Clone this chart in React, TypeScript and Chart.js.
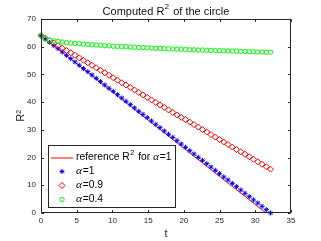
import React, { useEffect, useRef } from 'react';
import { Chart, registerables } from 'chart.js';

Chart.register(...registerables);

// ---- data ----
const TIME = [0, 0.6, 1.19, 1.79, 2.38, 2.98, 3.57, 4.17, 4.76, 5.36, 5.95, 6.55, 7.14, 7.74, 8.33, 8.93, 9.52, 10.12, 10.71, 11.31, 11.9, 12.5, 13.09, 13.69, 14.28, 14.88, 15.47, 16.07, 16.66, 17.26, 17.85, 18.45, 19.04, 19.64, 20.23, 20.83, 21.42, 22.02, 22.61, 23.21, 23.8, 24.4, 24.99, 25.59, 26.18, 26.78, 27.37, 27.97, 28.56, 29.16, 29.75, 30.35, 30.94, 31.54, 32.13];

const R2_ALPHA_1 = [64.0, 62.8, 61.6, 60.4, 59.3, 58.1, 56.9, 55.7, 54.5, 53.3, 52.1, 51.0, 49.8, 48.6, 47.4, 46.2, 45.0, 43.9, 42.7, 41.5, 40.3, 39.1, 37.9, 36.7, 35.6, 34.4, 33.2, 32.0, 30.8, 29.6, 28.4, 27.3, 26.1, 24.9, 23.7, 22.5, 21.3, 20.1, 19.0, 17.8, 16.6, 15.4, 14.2, 13.0, 11.9, 10.7, 9.5, 8.3, 7.1, 5.9, 4.7, 3.6, 2.4, 1.2, 0.0];

const R2_ALPHA_09 = [64.0, 63.1, 62.2, 61.3, 60.4, 59.5, 58.6, 57.8, 56.9, 56.0, 55.1, 54.2, 53.3, 52.4, 51.5, 50.6, 49.7, 48.8, 47.9, 47.0, 46.2, 45.3, 44.4, 43.5, 42.6, 41.7, 40.8, 39.9, 39.0, 38.1, 37.2, 36.3, 35.4, 34.5, 33.7, 32.8, 31.9, 31.0, 30.1, 29.2, 28.3, 27.4, 26.5, 25.6, 24.7, 23.8, 22.9, 22.1, 21.2, 20.3, 19.4, 18.5, 17.6, 16.7, 15.8];

const R2_ALPHA_04 = [64.0, 62.8, 62.4, 62.1, 61.9, 61.7, 61.5, 61.3, 61.2, 61.1, 60.9, 60.8, 60.7, 60.6, 60.5, 60.4, 60.3, 60.2, 60.1, 60.0, 60.0, 59.9, 59.8, 59.7, 59.7, 59.6, 59.5, 59.4, 59.4, 59.3, 59.2, 59.2, 59.1, 59.1, 59.0, 58.9, 58.9, 58.8, 58.8, 58.7, 58.7, 58.6, 58.6, 58.5, 58.5, 58.4, 58.4, 58.3, 58.3, 58.2, 58.2, 58.1, 58.1, 58.0, 58.0];

const REF_TIME = [0, 31.5];
const REF_R2 = [64, 0];

const SERIES_LABELS = ['reference R² for α=1', 'α=1', 'α=0.9', 'α=0.4'];
const SERIES_COLORS = ['#ff0000', '#0000ff', '#ff0000', '#00ff00'];
const SERIES_MARKERS = ['line', 'star', 'rectRot', 'circle'];
const MARKER_SIZES = [0, 2.5, 3, 2.2];
const TITLE = 'Computed R² of the circle';
const X_LABEL = 't';
const Y_LABEL = 'R²';

const AXIS_COLOR = '#262626';
const SANS = '"Liberation Sans", Arial, Helvetica, sans-serif';

function toPoints(xs: number[], ys: number[]) {
  return xs.map((x, i) => ({ x, y: ys[i] }));
}

function richWidth(ctx: CanvasRenderingContext2D, text: string, size: number) {
  return drawRich(ctx, text, 0, 0, size, false);
}

function drawRich(ctx: CanvasRenderingContext2D, text: string, x: number, y: number, size: number, paint = true) {
  let cx = x;
  ctx.textBaseline = 'middle';
  ctx.textAlign = 'left';
  let buf = '';
  const flush = () => {
    if (!buf) return;
    ctx.font = `${size}px ${SANS}`;
    if (paint) ctx.fillText(buf, cx, y);
    cx += ctx.measureText(buf).width;
    buf = '';
  };
  for (const ch of text) {
    if (ch === '²') {
      flush();
      ctx.font = `${size * 0.7}px ${SANS}`;
      if (paint) ctx.fillText('2', cx + 0.5, y - size * 0.4);
      cx += ctx.measureText('2').width + 1.5;
    } else if (ch === 'α') {
      flush();
      ctx.font = `italic ${size * 1.1}px "Liberation Serif", "DejaVu Serif", serif`;
      if (paint) ctx.fillText('α', cx, y);
      cx += ctx.measureText('α').width + 0.8;
    } else {
      buf += ch;
    }
  }
  flush();
  return cx - x;
}

function drawMarker(ctx: CanvasRenderingContext2D, style: string, x: number, y: number, r: number, color: string) {
  ctx.save();
  ctx.strokeStyle = color;
  ctx.lineWidth = 1;
  ctx.beginPath();
  if (style === 'star') {
    ctx.moveTo(x - r, y); ctx.lineTo(x + r, y);
    ctx.moveTo(x, y - r); ctx.lineTo(x, y + r);
    const d = r * Math.SQRT1_2;
    ctx.moveTo(x - d, y - d); ctx.lineTo(x + d, y + d);
    ctx.moveTo(x - d, y + d); ctx.lineTo(x + d, y - d);
  } else if (style === 'rectRot') {
    ctx.moveTo(x - r, y); ctx.lineTo(x, y - r); ctx.lineTo(x + r, y); ctx.lineTo(x, y + r); ctx.closePath();
  } else {
    ctx.arc(x, y, r, 0, Math.PI * 2);
  }
  ctx.stroke();
  ctx.restore();
}

const frameAndLegend = {
  id: 'frameAndLegend',
  afterDatasetsDraw(chart: any) {
    const { ctx, chartArea: a, scales } = chart;
    const xs = scales.x;
    const ys = scales.y;
    ctx.save();
    // box
    ctx.strokeStyle = AXIS_COLOR;
    ctx.lineWidth = 1;
    const L = Math.round(a.left) + 0.5;
    const R = Math.round(a.right) - 0.5;
    const T = Math.round(a.top) + 0.5;
    const B = Math.round(a.bottom) - 0.5;
    ctx.strokeRect(L, T, R - L, B - T);
    const tl = 2.5;
    ctx.beginPath();
    xs.ticks.forEach((t: any) => {
      const px = Math.round(xs.getPixelForValue(t.value)) + 0.5;
      ctx.moveTo(px, B); ctx.lineTo(px, B - tl);
      ctx.moveTo(px, T); ctx.lineTo(px, T + tl);
    });
    ys.ticks.forEach((t: any) => {
      const py = Math.round(ys.getPixelForValue(t.value)) + 0.5;
      ctx.moveTo(L, py); ctx.lineTo(L + tl, py);
      ctx.moveTo(R, py); ctx.lineTo(R - tl, py);
    });
    ctx.stroke();

    // title, centred over the plot area
    ctx.fillStyle = '#111111';
    const tSize = 11;
    const tw = richWidth(ctx, TITLE, tSize);
    drawRich(ctx, TITLE, (a.left + a.right) / 2 - tw / 2, a.top - 7.5, tSize);

    // legend
    const lx = Math.round(a.left + 6.5) + 0.5;
    const lw = 127;
    const lh = 62;
    const ly = Math.round(a.bottom - 6 - lh) + 0.5;
    ctx.fillStyle = '#ffffff';
    ctx.fillRect(lx, ly, lw, lh);
    ctx.strokeStyle = AXIS_COLOR;
    ctx.lineWidth = 1;
    ctx.strokeRect(lx, ly, lw, lh);
    SERIES_LABELS.forEach((label, i) => {
      const rowY = ly + 12 + i * 14;
      if (SERIES_MARKERS[i] === 'line') {
        ctx.save();
        ctx.strokeStyle = SERIES_COLORS[i];
        ctx.lineWidth = 1;
        ctx.beginPath();
        ctx.moveTo(lx + 2.5, rowY + 0.5);
        ctx.lineTo(lx + 24.5, rowY + 0.5);
        ctx.stroke();
        ctx.restore();
      } else {
        drawMarker(ctx, SERIES_MARKERS[i], lx + 13.5, rowY, MARKER_SIZES[i], SERIES_COLORS[i]);
      }
      ctx.fillStyle = '#000000';
      drawRich(ctx, label, lx + 27.5, rowY, 10.3);
    });
    ctx.restore();
  },
};

export default function App() {
  const canvasRef = useRef<HTMLCanvasElement | null>(null);

  useEffect(() => {
    if (!canvasRef.current) return;
    const chart = new Chart(canvasRef.current, {
      type: 'line',
      data: {
        datasets: [
          {
            label: SERIES_LABELS[0],
            data: toPoints(REF_TIME, REF_R2),
            borderColor: SERIES_COLORS[0],
            backgroundColor: SERIES_COLORS[0],
            borderWidth: 1,
            pointRadius: 0,
            showLine: true,
            order: 4,
            clip: false,
          } as any,
          {
            label: SERIES_LABELS[1],
            data: toPoints(TIME, R2_ALPHA_1),
            borderColor: SERIES_COLORS[1],
            backgroundColor: SERIES_COLORS[1],
            pointStyle: SERIES_MARKERS[1],
            pointRadius: MARKER_SIZES[1],
            pointBorderWidth: 1,
            showLine: false,
            order: 3,
            clip: false,
          } as any,
          {
            label: SERIES_LABELS[2],
            data: toPoints(TIME, R2_ALPHA_09),
            borderColor: SERIES_COLORS[2],
            backgroundColor: 'rgba(0,0,0,0)',
            pointStyle: SERIES_MARKERS[2],
            pointRadius: MARKER_SIZES[2],
            pointBorderWidth: 1,
            showLine: false,
            order: 2,
            clip: false,
          } as any,
          {
            label: SERIES_LABELS[3],
            data: toPoints(TIME, R2_ALPHA_04),
            borderColor: SERIES_COLORS[3],
            backgroundColor: 'rgba(0,0,0,0)',
            pointStyle: SERIES_MARKERS[3],
            pointRadius: MARKER_SIZES[3],
            pointBorderWidth: 1,
            showLine: false,
            order: 1,
            clip: false,
          } as any,
        ],
      },
      options: {
        animation: false,
        responsive: false,
        devicePixelRatio: 1,
        layout: { padding: { left: 0, right: 30, top: 19, bottom: 0 } },
        plugins: {
          legend: { display: false },
          tooltip: { enabled: false },
          title: { display: false },
        },
        scales: {
          x: {
            type: 'linear',
            min: 0,
            max: 35,
            grid: { display: false, drawTicks: false },
            border: { display: false },
            ticks: {
              stepSize: 5,
              color: AXIS_COLOR,
              font: { family: SANS, size: 8 },
              padding: 3,
              maxRotation: 0,
            },
            title: {
              display: true,
              text: X_LABEL,
              color: AXIS_COLOR,
              font: { family: SANS, size: 11 },
              padding: { top: 0, bottom: 0 },
            },
            afterFit: (s: any) => { s.height = 28; },
          },
          y: {
            type: 'linear',
            min: 0,
            max: 70,
            grid: { display: false, drawTicks: false },
            border: { display: false },
            ticks: {
              stepSize: 10,
              color: AXIS_COLOR,
              font: { family: SANS, size: 8 },
              padding: 5,
            },
            title: {
              display: true,
              text: Y_LABEL,
              color: AXIS_COLOR,
              font: { family: SANS, size: 11 },
              padding: { top: 14, bottom: 0 },
            },
            afterFit: (s: any) => { s.width = 41; },
          },
        },
      } as any,
      plugins: [frameAndLegend],
    });
    return () => chart.destroy();
  }, []);

  return (
    <div style={{ position: 'fixed', left: 0, top: 0, width: 321, height: 241, background: '#ffffff' }}>
      <canvas ref={canvasRef} width={321} height={241} style={{ display: 'block' }} />
    </div>
  );
}
